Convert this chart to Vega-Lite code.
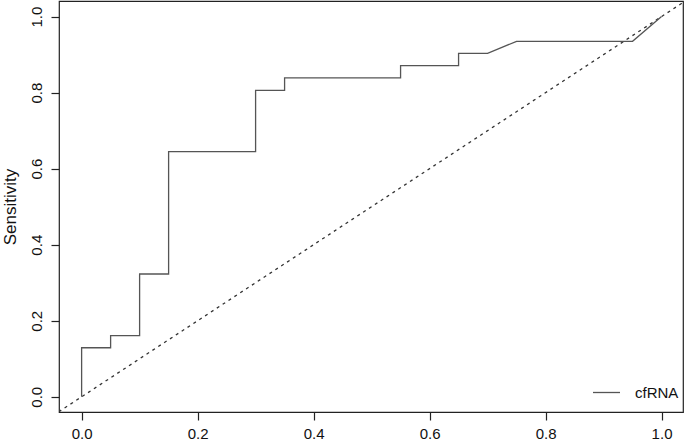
{
  "$schema": "https://vega.github.io/schema/vega-lite/v6.json",
  "autosize": "none",
  "padding": {"left": 59, "top": 1, "right": 2, "bottom": 31},
  "width": 624,
  "height": 411,
  "background": "white",
  "config": {
    "font": "Liberation Sans",
    "view": {"stroke": "#222", "strokeWidth": 1.2},
    "axis": {
      "grid": false,
      "domain": false,
      "tickColor": "#222",
      "tickSize": 8,
      "tickWidth": 1.2,
      "labelFont": "Liberation Sans",
      "labelFontSize": 15,
      "labelColor": "#111",
      "titleFont": "Liberation Sans",
      "titleFontSize": 17,
      "titleFontWeight": "normal",
      "titleColor": "#111"
    }
  },
  "datasets": {
    "roc": [
      {"i": 0, "fpr": 0.0, "sens": 0.0},
      {"i": 1, "fpr": 0.0, "sens": 0.129},
      {"i": 2, "fpr": 0.05, "sens": 0.129},
      {"i": 3, "fpr": 0.05, "sens": 0.161},
      {"i": 4, "fpr": 0.1, "sens": 0.161},
      {"i": 5, "fpr": 0.1, "sens": 0.323},
      {"i": 6, "fpr": 0.15, "sens": 0.323},
      {"i": 7, "fpr": 0.15, "sens": 0.645},
      {"i": 8, "fpr": 0.3, "sens": 0.645},
      {"i": 9, "fpr": 0.3, "sens": 0.806},
      {"i": 10, "fpr": 0.35, "sens": 0.806},
      {"i": 11, "fpr": 0.35, "sens": 0.839},
      {"i": 12, "fpr": 0.55, "sens": 0.839},
      {"i": 13, "fpr": 0.55, "sens": 0.871},
      {"i": 14, "fpr": 0.65, "sens": 0.871},
      {"i": 15, "fpr": 0.65, "sens": 0.903},
      {"i": 16, "fpr": 0.7, "sens": 0.903},
      {"i": 17, "fpr": 0.75, "sens": 0.935},
      {"i": 18, "fpr": 0.95, "sens": 0.935},
      {"i": 19, "fpr": 1.0, "sens": 1.0}
    ],
    "diag": [
      {"i": 0, "fpr": -0.1, "sens": -0.1},
      {"i": 1, "fpr": 1.1, "sens": 1.1}
    ]
  },
  "layer": [
    {
      "data": {"name": "diag"},
      "mark": {"type": "line", "clip": true, "color": "#333", "strokeWidth": 1.3, "strokeDash": [3, 4]},
      "encoding": {
        "x": {"field": "fpr", "type": "quantitative"},
        "y": {"field": "sens", "type": "quantitative"},
        "order": {"field": "i"}
      }
    },
    {
      "data": {"name": "roc"},
      "mark": {"type": "line", "strokeWidth": 1.3},
      "encoding": {
        "x": {
          "field": "fpr", "type": "quantitative",
          "scale": {"domain": [-0.039, 1.037], "nice": false, "zero": false},
          "axis": {"title": null, "values": [0, 0.2, 0.4, 0.6, 0.8, 1.0], "format": ".1f", "labelPadding": 6, "labelBaseline": "top"}
        },
        "y": {
          "field": "sens", "type": "quantitative",
          "scale": {"domain": [-0.04, 1.041], "nice": false, "zero": false},
          "axis": {"title": "Sensitivity", "values": [0, 0.2, 0.4, 0.6, 0.8, 1.0], "format": ".1f", "labelAngle": 270, "labelAlign": "center", "labelBaseline": "bottom", "labelPadding": 7, "titlePadding": 10}
        },
        "order": {"field": "i"},
        "color": {
          "datum": "cfRNA",
          "scale": {"range": ["#555555"]},
          "legend": {
            "title": null,
            "orient": "none",
            "legendX": 533,
            "legendY": 377,
            "padding": 0,
            "symbolType": "stroke",
            "symbolSize": 729,
            "symbolStrokeWidth": 1.3,
            "labelFont": "Liberation Sans",
            "labelFontSize": 15,
            "labelColor": "#111",
            "labelOffset": 14
          }
        }
      }
    }
  ]
}
